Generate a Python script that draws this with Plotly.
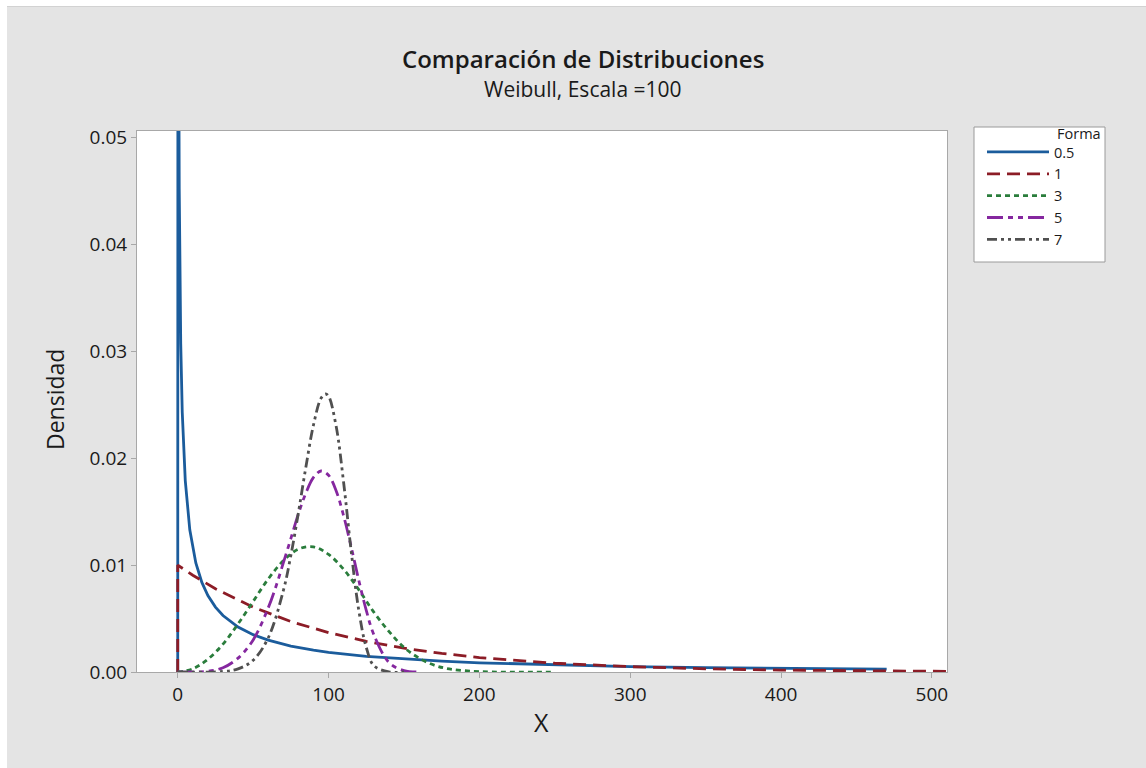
import plotly.graph_objects as go

# Weibull, escala = 100 -- densities
x_05 = [0, 0.2, 0.5, 1, 2, 3, 5, 8, 12, 16, 20, 25, 30, 40, 50, 60, 75, 90, 100,
        125, 150, 175, 200, 250, 300, 350, 400, 470]
y_05 = [0, 0.107, 0.0659, 0.0452, 0.0307, 0.0243, 0.0179, 0.0133, 0.0102, 0.00838,
        0.00715, 0.00607, 0.00528, 0.0042, 0.00349, 0.00298, 0.00243, 0.00204, 0.00184,
        0.00146, 0.0012, 0.00101, 0.00086, 0.00065, 0.00051, 0.00041, 0.00034, 0.00026]

x_1 = [0, 0, 10, 25, 50, 75, 100, 125, 150, 175, 200, 250, 300, 350, 400, 450, 510]
y_1 = [0, 0.01, 0.00905, 0.00779, 0.00607, 0.00472, 0.00368, 0.00287, 0.00223,
       0.00174, 0.00135, 0.00082, 0.0005, 0.0003, 0.00018, 0.00011, 0.00006]

x_3 = [0, 10, 20, 30, 40, 50, 60, 70, 80, 90, 100, 110, 120, 130, 140, 150, 160,
       170, 180, 200, 250]
y_3 = [0, 0.0003, 0.0012, 0.0026, 0.0045, 0.0066, 0.0087, 0.0104, 0.0115, 0.0117,
       0.011, 0.0096, 0.0077, 0.0056, 0.0038, 0.0023, 0.0013, 0.00064, 0.00029,
       0.00004, 0]

x_5 = [0, 20, 30, 40, 50, 60, 65, 70, 75, 80, 85, 90, 95, 100, 105, 110, 115, 120,
       125, 130, 140, 150, 160]
y_5 = [0, 0.00008, 0.0004, 0.0013, 0.003, 0.006, 0.00795, 0.0102, 0.01248, 0.0148,
       0.01675, 0.0182, 0.0188, 0.0184, 0.01696, 0.0146, 0.0117, 0.0086, 0.00577,
       0.0035, 0.0009, 0.00013, 0.00001]

x_7 = [0, 30, 40, 50, 60, 70, 75, 80, 85, 90, 95, 98, 100, 105, 110, 115, 120, 125,
       130, 140, 150]
y_7 = [0, 0.00005, 0.00029, 0.0011, 0.0032, 0.0076, 0.0109, 0.0149, 0.0192, 0.0231,
       0.0256, 0.026, 0.0258, 0.023, 0.0177, 0.0113, 0.0058, 0.0023, 0.0006, 0.00001, 0]

series = [
    ("0.5", x_05, y_05, "#1b5c9c", "solid", "linear"),
    ("1", x_1, y_1, "#8c1c26", "13px,7px", "linear"),
    ("3", x_3, y_3, "#2a7d3c", "5px,4px", "spline"),
    ("5", x_5, y_5, "#85279f", "16px,5px,5px,5px,5px,5px", "spline"),
    ("7", x_7, y_7, "#505050", "10px,4px,3px,4px,3px,4px", "spline"),
]

FONT = "Open Sans"
INK = "#1a1a1a"

fig = go.Figure()
for name, xs, ys, color, dash, shape in series:
    fig.add_trace(go.Scatter(
        x=xs, y=ys, mode="lines", name=name,
        line=dict(color=color, width=2.8, dash=dash, shape=shape),
    ))

# plot box: 137..947 px wide, 131..672 px high
L, R, T, B = 137, 947, 131, 672
W, H = 1146, 768
pw, ph = R - L, B - T

def px(x):
    return (x - L) / pw

def py(y):
    return (B - y) / ph

axis_common = dict(
    showgrid=False, zeroline=False,
    showline=True, linecolor="#a8a8a8", linewidth=1, mirror=True,
    ticks="outside", ticklen=5, tickcolor="#a8a8a8",
    tickfont=dict(family=FONT, size=19, color=INK),
)

fig.update_layout(
    width=W, height=H,
    margin=dict(l=L, r=W - R, t=T, b=H - B),
    paper_bgcolor="#e4e4e4",
    plot_bgcolor="white",
    showlegend=True,
    xaxis=dict(range=[-27, 510], tickvals=[0, 100, 200, 300, 400, 500], **axis_common),
    yaxis=dict(range=[0, 0.0506], tickvals=[0, 0.01, 0.02, 0.03, 0.04, 0.05],
               tickformat=".2f", **axis_common),
    legend=dict(
        x=px(982), y=py(136), xanchor="left", yanchor="top",
        bgcolor="rgba(0,0,0,0)", borderwidth=0,
        font=dict(family=FONT, size=14.5, color=INK),
        itemwidth=62, tracegroupgap=0,
    ),
    shapes=[
        # white strips round the grey panel
        dict(type="rect", xref="paper", yref="paper", x0=px(0), x1=px(W), y0=py(0), y1=py(6),
             fillcolor="white", line=dict(width=0)),
        dict(type="rect", xref="paper", yref="paper", x0=px(0), x1=px(7), y0=py(0), y1=py(H),
             fillcolor="white", line=dict(width=0)),
        dict(type="line", xref="paper", yref="paper", x0=px(7), x1=px(W), y0=py(6.5), y1=py(6.5),
             line=dict(color="#d2d2d2", width=1)),
        # legend box
        dict(type="rect", xref="paper", yref="paper", x0=px(974), x1=px(1105), y0=py(127), y1=py(262),
             fillcolor="white", line=dict(color="#9a9a9a", width=1), layer="below"),
    ],
    annotations=[
        dict(text="Comparación de Distribuciones", xref="paper", yref="paper",
             x=px(583), y=py(58), showarrow=False, xanchor="center", yanchor="middle",
             font=dict(family=FONT, size=24, color=INK, weight=600)),
        dict(text="Weibull, Escala =100", xref="paper", yref="paper",
             x=px(583), y=py(89), showarrow=False, xanchor="center", yanchor="middle",
             font=dict(family=FONT, size=21, color=INK)),
        dict(text="Densidad", xref="paper", yref="paper", textangle=-90,
             x=px(55), y=py(400), showarrow=False, xanchor="center", yanchor="middle",
             font=dict(family=FONT, size=23, color=INK)),
        dict(text="X", xref="paper", yref="paper",
             x=px(541), y=py(722), showarrow=False, xanchor="center", yanchor="middle",
             font=dict(family=FONT, size=25, color=INK)),
        dict(text="Forma", xref="paper", yref="paper",
             x=px(1055), y=py(134), showarrow=False, xanchor="left", yanchor="middle",
             font=dict(family=FONT, size=14.5, color=INK)),
    ],
)

fig.write_html("out.html", config={"displayModeBar": False},
               post_script="document.body.style.margin='0';")
